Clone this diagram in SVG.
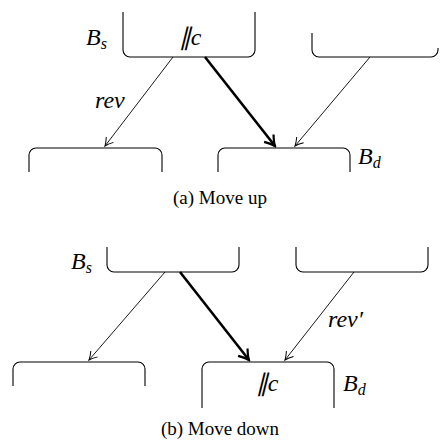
<svg xmlns="http://www.w3.org/2000/svg" width="440" height="441" viewBox="0 0 440 441">
<style>
.box{fill:none;stroke:#000;stroke-width:1.1}
.thin{fill:none;stroke:#000;stroke-width:0.9}
.thick{fill:none;stroke:#000;stroke-width:2.6}
text{font-family:"Liberation Serif",serif;fill:#000}
.m{font-style:italic;font-size:24px}
.sub{font-size:16px}
.lab{font-style:italic;font-size:24px}
.cap{font-size:19px;text-anchor:middle}
</style>
<defs>
<marker id="ah" markerUnits="userSpaceOnUse" viewBox="-10 -6 12 12" refX="0" refY="0" markerWidth="12" markerHeight="12" orient="auto">
<path d="M-8,-4.5 Q-3,-1 0,0 Q-3,1 -8,4.5" fill="none" stroke="#000" stroke-width="1"/>
</marker>
<marker id="ahk" markerUnits="userSpaceOnUse" viewBox="-12 -8 14 16" refX="0" refY="0" markerWidth="14" markerHeight="16" orient="auto">
<path d="M-10,-6 Q-4,-1.5 0,0 Q-4,1.5 -10,6" fill="none" stroke="#000" stroke-width="2.2"/>
</marker>
</defs>
<rect width="440" height="441" fill="#fff"/>

<!-- (a) Move up -->
<g id="a-Bs">
<path class="box" d="M123,12 V50 A7,7 0 0 0 130,57 H248 A7,7 0 0 0 255,50 V12"/>
<text class="m" x="86" y="45">B<tspan class="sub" dy="4">s</tspan></text>
<text class="m" x="190" y="45" text-anchor="middle">∥c</text>
</g>
<g id="a-top-right">
<path class="box" d="M312,33 V50 A7,7 0 0 0 319,57 H431 A7,7 0 0 0 438,50 V48"/>
</g>
<g id="a-bottom-left">
<path class="box" d="M29,172 V155 A7,7 0 0 1 36,148 H155 A7,7 0 0 1 162,155 V172"/>
</g>
<g id="a-Bd">
<path class="box" d="M218,172 V155 A7,7 0 0 1 225,148 H343 A7,7 0 0 1 350,155 V172"/>
<text class="m" x="358" y="164">B<tspan class="sub" dy="4">d</tspan></text>
</g>
<g id="a-edges">
<line class="thin" x1="173" y1="57" x2="105" y2="146" marker-end="url(#ah)"/>
<line class="thick" x1="205" y1="57" x2="275" y2="146" marker-end="url(#ahk)"/>
<line class="thin" x1="370" y1="57" x2="295" y2="146" marker-end="url(#ah)"/>
<text class="lab" x="95" y="108">rev</text>
</g>
<text class="cap" x="220" y="204">(a) Move up</text>

<!-- (b) Move down -->
<g id="b-Bs">
<path class="box" d="M107,247 V265 A7,7 0 0 0 114,272 H232 A7,7 0 0 0 239,265 V247"/>
<text class="m" x="71" y="269">B<tspan class="sub" dy="4">s</tspan></text>
</g>
<g id="b-top-right">
<path class="box" d="M296,247 V265 A7,7 0 0 0 303,272 H421 A7,7 0 0 0 428,265 V247"/>
</g>
<g id="b-bottom-left">
<path class="box" d="M13,386 V369 A7,7 0 0 1 20,362 H138 A7,7 0 0 1 145,369 V386"/>
</g>
<g id="b-Bd">
<path class="box" d="M202,408 V369 A7,7 0 0 1 209,362 H327 A7,7 0 0 1 334,369 V408"/>
<text class="m" x="267" y="391" text-anchor="middle">∥c</text>
<text class="m" x="343" y="391">B<tspan class="sub" dy="4">d</tspan></text>
</g>
<g id="b-edges">
<line class="thin" x1="165" y1="272" x2="89" y2="360" marker-end="url(#ah)"/>
<line class="thick" x1="180" y1="272" x2="249" y2="360" marker-end="url(#ahk)"/>
<line class="thin" x1="354" y1="272" x2="285" y2="360" marker-end="url(#ah)"/>
<text class="lab" x="328" y="327">rev′</text>
</g>
<text class="cap" x="220" y="435">(b) Move down</text>
</svg>
